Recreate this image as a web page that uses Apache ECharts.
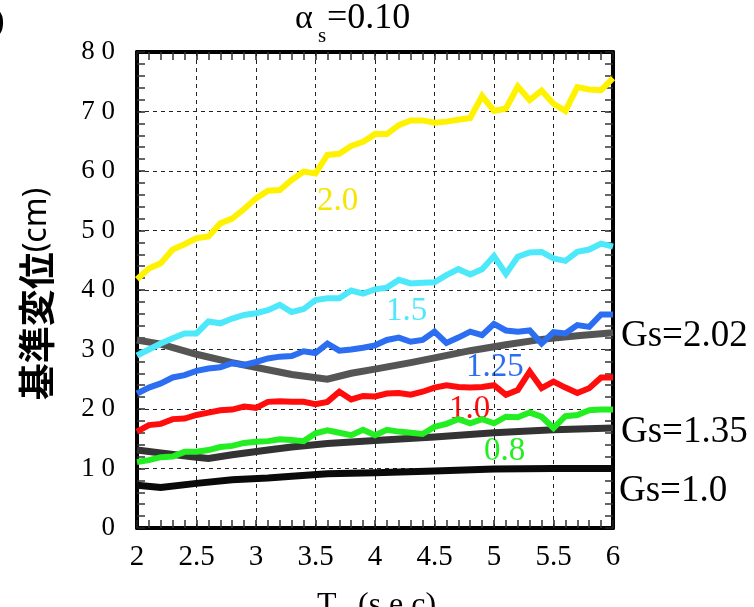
<!DOCTYPE html>
<html><head><meta charset="utf-8">
<script src="https://cdn.jsdelivr.net/npm/echarts@6/dist/echarts.min.js"></script>
<style>html,body{margin:0;padding:0;background:#fff}#c{width:754px;height:607px}</style>
</head><body><div id="c"></div>
<script>
const T = [2.0,2.1,2.2,2.3,2.4,2.5,2.6,2.7,2.8,2.9,3.0,3.1,3.2,3.3,3.4,3.5,3.6,3.7,3.8,3.9,4.0,4.1,4.2,4.3,4.4,4.5,4.6,4.7,4.8,4.9,5.0,5.1,5.2,5.3,5.4,5.5,5.6,5.7,5.8,5.9,6.0];
const s20  = [41.8,43.6,44.5,46.8,47.7,48.7,49.0,51.2,52.0,53.6,55.4,56.7,56.8,58.5,59.9,59.6,62.7,62.9,64.2,64.9,66.2,66.2,67.7,68.5,68.5,68.1,68.3,68.6,68.9,72.6,70.1,70.5,74.2,71.9,73.5,71.3,70.1,74.1,73.7,73.6,75.6];
const s15  = [29.0,30.0,31.0,31.9,32.7,32.7,34.7,34.4,35.2,35.8,36.1,36.6,37.5,36.3,36.8,38.3,38.6,38.6,39.9,39.4,40.1,40.4,41.7,41.1,41.2,41.3,42.5,43.5,42.6,43.5,45.7,42.7,45.6,46.3,46.4,45.3,44.9,46.4,46.8,47.8,47.3];
const s125 = [22.6,23.6,24.3,25.3,25.7,26.4,26.8,27.0,27.7,27.4,27.9,28.5,28.8,28.9,29.7,29.4,31.0,29.8,30.0,30.3,30.7,31.6,32.0,31.3,31.6,33.0,31.1,32.0,33.0,32.4,34.3,33.2,33.0,33.2,31.0,32.9,32.7,34.1,33.8,35.9,35.9];
const s10  = [16.2,17.3,17.5,18.3,18.4,19.0,19.4,19.8,19.9,20.4,20.2,21.2,21.3,21.2,21.2,20.8,21.2,22.9,21.6,22.2,22.1,22.6,22.7,22.4,22.9,23.6,24.0,23.7,23.6,23.7,24.0,22.4,23.2,26.3,23.5,24.6,23.6,22.7,23.5,25.3,25.3];
const s08  = [11.1,11.4,11.9,12.0,12.8,12.8,13.1,13.6,13.8,14.3,14.5,14.6,14.9,14.8,14.6,15.9,16.4,16.0,15.6,16.5,15.6,16.5,16.2,16.0,15.8,17.0,17.5,18.3,17.6,18.3,17.6,18.7,18.6,19.4,18.7,16.8,18.8,19.0,19.8,19.9,19.9];
const gsT202 = [2.0,2.2,2.5,2.8,3.1,3.3,3.6,3.8,4.0,4.3,4.5,4.8,5.1,5.4,5.7,6.0];
const gs202  = [31.6,30.9,29.2,27.8,26.6,25.8,25.0,26.0,26.7,27.8,28.6,29.8,30.8,31.7,32.3,32.8];
const gsT135 = [2.0,2.2,2.5,2.6,2.8,3.1,3.3,3.6,4.0,4.5,5.0,5.5,6.0];
const gs135  = [13.1,12.6,11.9,11.7,12.3,13.1,13.6,14.2,14.7,15.3,16.0,16.5,16.8];
const gsT100 = [2.0,2.2,2.5,2.8,3.1,3.3,3.6,4.0,4.5,5.0,5.5,6.0];
const gs100  = [7.2,6.8,7.5,8.1,8.4,8.7,9.1,9.3,9.6,9.9,10.0,10.0];
const xTicks = [2,2.5,3,3.5,4,4.5,5,5.5,6];
const yTicks = [0,10,20,30,40,50,60,70,80];

const pair = (xs, ys) => xs.map((x,i)=>[x, ys[i]]);
const serif = '"Liberation Serif","DejaVu Serif",serif';
const sp = v => String(v).split('').join(' ');

const chart = echarts.init(document.getElementById('c'), null, {renderer:'canvas'});
function line(data, color, w, z){
  return {type:'line', data, showSymbol:false, symbol:'none', lineStyle:{color, width:w, cap:'butt', join:'miter'}, z, animation:false};
}
const axisCommon = {
  axisLine:{show:true, onZero:false, lineStyle:{color:'#000', width:4}},
  axisTick:{show:true, inside:true, length:8, lineStyle:{color:'#222', width:1.5}},
  minorTick:{show:true, splitNumber:5, length:8, lineStyle:{color:'#333', width:1.5}},
};
const txt = (text, x, y, color, size) => ({type:'text', x, y, style:{text, fill:color, fontSize:size, fontFamily:serif, verticalAlign:'middle'}});
chart.setOption({
  animation:false,
  grid:{left:137, right:141, top:52, bottom:79},
  xAxis:[
    Object.assign({type:'value', min:2, max:6, interval:0.5, position:'bottom',
      axisLabel:{margin:15, fontSize:29, fontFamily:serif, color:'#000', formatter:v=>xTicks.includes(v)?String(v):''},
      splitLine:{show:true, lineStyle:{color:'#222', type:[4,4], width:1}}}, axisCommon),
    Object.assign({type:'value', min:2, max:6, interval:0.5, position:'top', axisLabel:{show:false}, splitLine:{show:false}}, axisCommon)
  ],
  yAxis:[
    Object.assign({type:'value', min:0, max:80, interval:10, position:'left',
      axisLabel:{margin:22, fontSize:27, fontFamily:serif, color:'#000', formatter:v=>yTicks.includes(v)?sp(v):''},
      splitLine:{show:true, lineStyle:{color:'#222', type:[4,4], width:1}}}, axisCommon),
    Object.assign({type:'value', min:0, max:80, interval:10, position:'right', axisLabel:{show:false}, splitLine:{show:false}}, axisCommon)
  ],
  series:[
    line(pair(gsT202, gs202), '#555555', 7, 2),
    line(pair(gsT135, gs135), '#333333', 7, 2),
    line(pair(gsT100, gs100), '#0a0a0a', 7, 2),
    line(pair(T, s08), '#22ee22', 6, 3),
    line(pair(T, s10), '#ff0d0d', 6, 3),
    line(pair(T, s125), '#2b6ef2', 6, 3),
    line(pair(T, s15), '#4de9fb', 6, 3),
    line(pair(T, s20), '#fff200', 6, 3)
  ],
  graphic:[
    txt('α', 295, 19, '#000', 34),
    txt('s', 318, 36, '#000', 21),
    txt('=0.10', 327, 19, '#000', 36),
    txt('(b)', -35, 22, '#000', 34),
    txt('2.0', 317, 201, '#f5e600', 33),
    txt('1.5', 386, 311, '#4de9fb', 33),
    txt('1.25', 466, 367, '#2b6ef2', 33),
    txt('1.0', 449, 409, '#ff0d0d', 33),
    txt('0.8', 484, 451, '#22ee22', 33),
    txt('Gs=2.02', 621, 336, '#000', 37),
    txt('Gs=1.35', 621, 432, '#000', 37),
    txt('Gs=1.0', 619, 491, '#000', 37),
    txt('T', 317, 606, '#000', 32),
    txt('s', 340, 614, '#000', 20),
    txt('(s e c)', 358, 606, '#000', 32),
    {type:'text', x:37, y:294, rotation:Math.PI/2, style:{rich:{a:{fontSize:37, fontWeight:'bold', fontFamily:'"Noto Sans CJK JP"', fill:'#000'}, b:{fontSize:32, fontFamily:'"Noto Sans","DejaVu Sans",sans-serif', fill:'#000'}}, text:'{a|基準変位}{b|(cm)}', align:'center', verticalAlign:'middle'}}
  ]
});
</script></body></html>
